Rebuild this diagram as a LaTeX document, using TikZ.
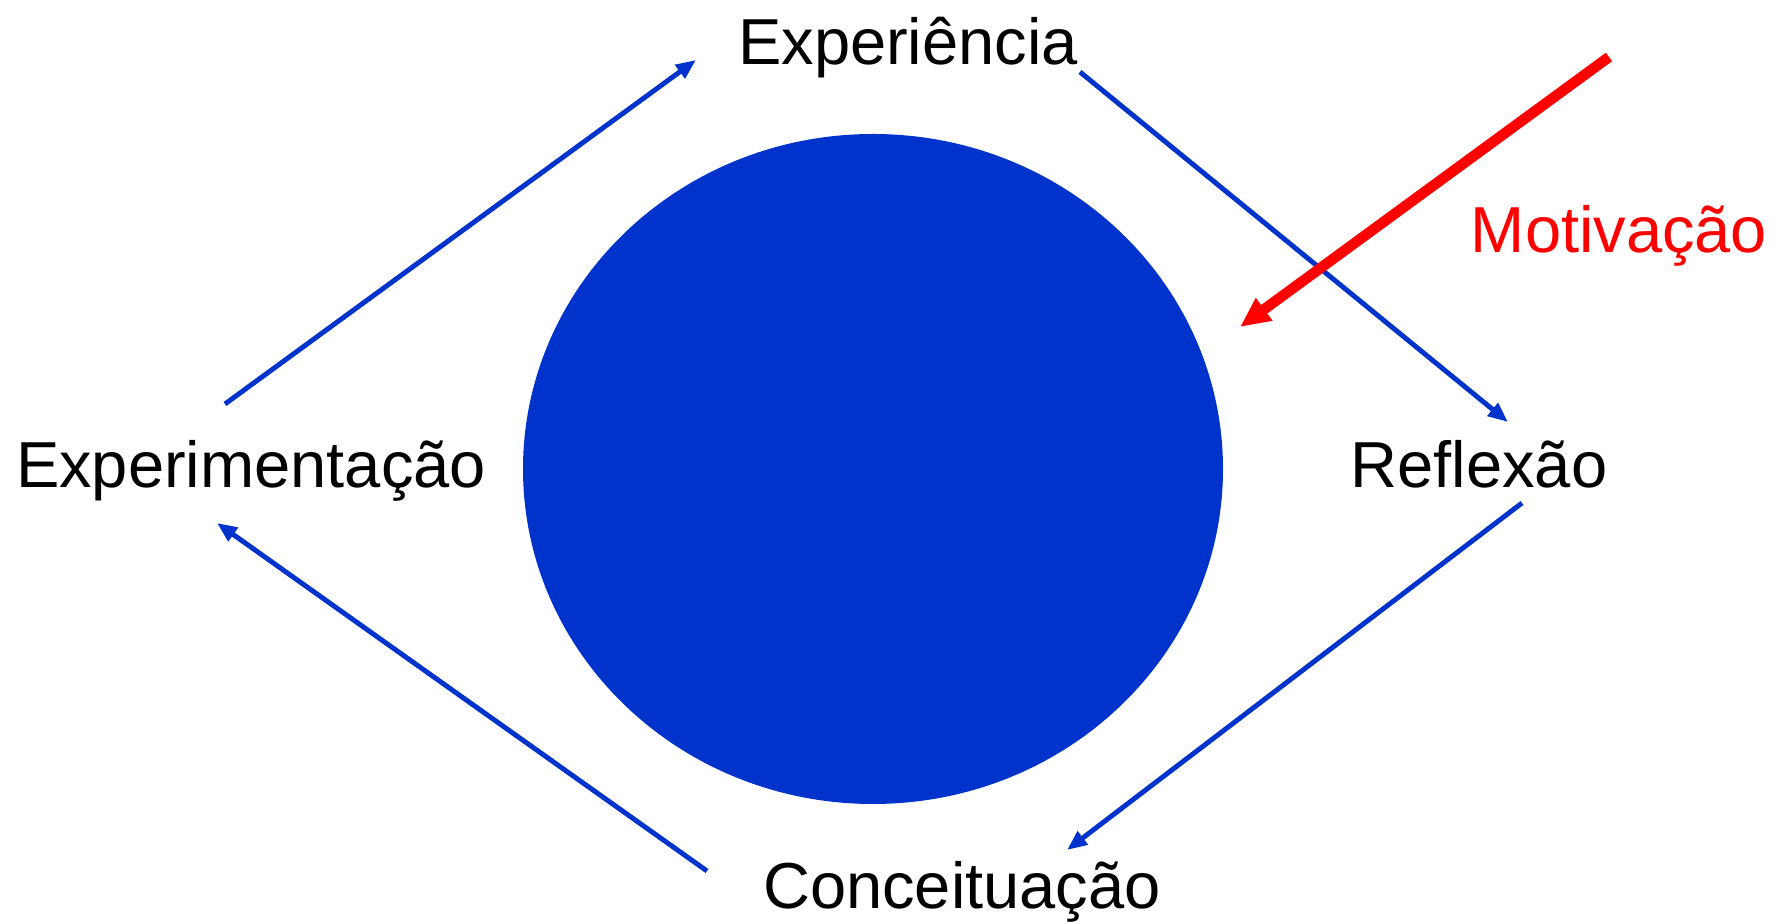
\documentclass[tikz,border=0pt]{standalone}
\usepackage{fontspec}
\setmainfont{Liberation Sans}
\usetikzlibrary{arrows.meta}
\definecolor{cycleblue}{RGB}{0,51,204}
\definecolor{motivred}{RGB}{255,0,0}
\tikzset{
  stage/.style={font=\fontsize{18.5}{22}\selectfont, inner sep=0pt, anchor=base},
  cycarrow/.style={cycleblue, line width=1.4pt, -{Triangle[length=2mm,width=1.6mm]}},
  motivarrow/.style={motivred, line width=3pt, -{Triangle[length=3mm,width=2.6mm]}}
}
\begin{document}
\begin{tikzpicture}
  \useasboundingbox (0,0) rectangle (17.89,9.24);
  % core
  \fill[cycleblue] (8.73,4.55) ellipse (3.50 and 3.35);
  % stages
  \node[stage] (exper) at (9.08,8.59) {Experiência};
  \node[stage] (refl) at (14.79,4.36) {Reflexão};
  \node[stage] (conc) at (9.62,0.15) {Conceituação};
  \node[stage] (expm) at (2.51,4.36) {Experimentação};
  \node[stage, motivred] (motiv) at (16.19,6.71) {Motivação};
  % arrow ends
  \coordinate (expm-out) at (2.25,5.20);
  \coordinate (exper-in) at (6.96,8.64);
  \coordinate (exper-out) at (10.80,8.52);
  \coordinate (refl-in) at (15.08,5.02);
  \coordinate (refl-out) at (15.22,4.21);
  \coordinate (conc-in) at (10.67,0.74);
  \coordinate (conc-out) at (7.07,0.53);
  \coordinate (expm-in) at (2.17,4.01);
  \coordinate (motiv-out) at (16.09,8.67);
  \coordinate (core-in) at (12.40,5.97);
  % cycle
  \draw[cycarrow] (expm-out) -- (exper-in);
  \draw[cycarrow] (exper-out) -- (refl-in);
  \draw[cycarrow] (refl-out) -- (conc-in);
  \draw[cycarrow] (conc-out) -- (expm-in);
  \draw[motivarrow] (motiv-out) -- (core-in);
\end{tikzpicture}
\end{document}
